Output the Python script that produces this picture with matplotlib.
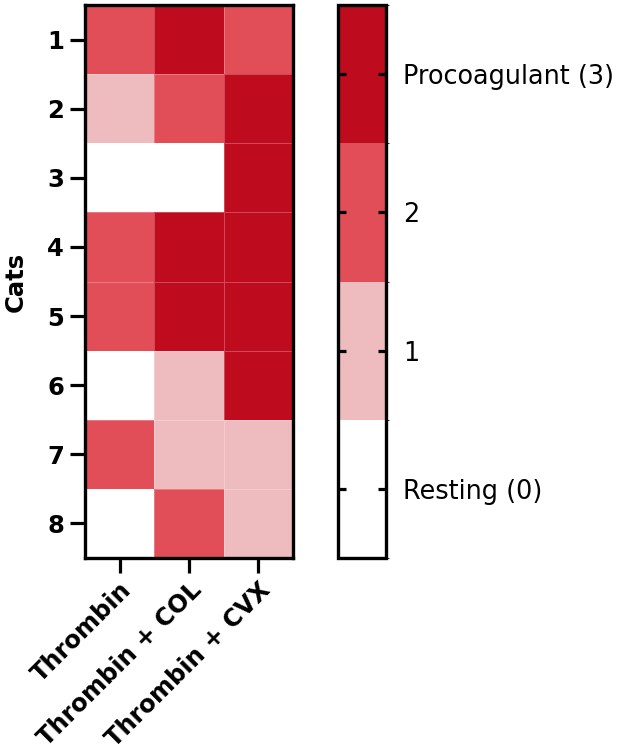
import matplotlib
matplotlib.use("Agg")
import matplotlib.pyplot as plt
import numpy as np
from matplotlib.colors import ListedColormap, BoundaryNorm

plt.rcParams['font.family'] = ['DejaVu Sans']

cats = ['1', '2', '3', '4', '5', '6', '7', '8']
treatments = ['Thrombin', 'Thrombin + COL', 'Thrombin + CVX']
thrombin = [2, 1, 0, 2, 2, 0, 2, 0]
thrombin_col = [3, 2, 0, 3, 3, 1, 1, 2]
thrombin_cvx = [2, 3, 3, 3, 3, 3, 1, 1]
level_labels = ['Resting (0)', '1', '2', 'Procoagulant (3)']
level_colors = ['#FFFFFF', '#EEBBBF', '#E14E58', '#BE0B1E']

data = np.array([thrombin, thrombin_col, thrombin_cvx]).T

fig = plt.figure(figsize=(6.24, 7.53), dpi=100)
ax = fig.add_axes([85/624, 1-558/753, 208/624, 553/753])
cax = fig.add_axes([338/624, 1-558/753, 48/624, 553/753])

cmap = ListedColormap(level_colors)
norm = BoundaryNorm([-0.5, 0.5, 1.5, 2.5, 3.5], cmap.N)

mesh = ax.pcolormesh(np.arange(len(treatments)+1), np.arange(len(cats)+1), data,
                     cmap=cmap, norm=norm, edgecolors=(1, 1, 1, 0.25), linewidth=0.6)
ax.set_xlim(0, len(treatments))
ax.set_ylim(len(cats), 0)
ax.set_xticks(np.arange(len(treatments)) + 0.5)
ax.set_xticklabels(treatments, rotation=45, ha='right', rotation_mode='anchor',
                   fontsize=17.4, fontweight='bold')
ax.set_yticks(np.arange(len(cats)) + 0.5)
ax.set_yticklabels(cats, fontsize=17.5, fontweight='bold')
ax.tick_params(axis='x', length=11, width=2.3, pad=3)
ax.tick_params(axis='y', length=11, width=2.3, pad=4)
for s in ax.spines.values():
    s.set_linewidth(2.4)
ax.set_ylabel('Cats', fontsize=17.5, fontweight='bold', labelpad=14)

cb = fig.colorbar(mesh, cax=cax, ticks=[0, 1, 2, 3])
cb.ax.set_yticklabels(level_labels, fontsize=18.4)
cb.ax.tick_params(direction='in', left=True, right=True, length=6, width=2.3, pad=12.5)
cb.outline.set_linewidth(2.4)

fig.savefig('out.png', dpi=100)
